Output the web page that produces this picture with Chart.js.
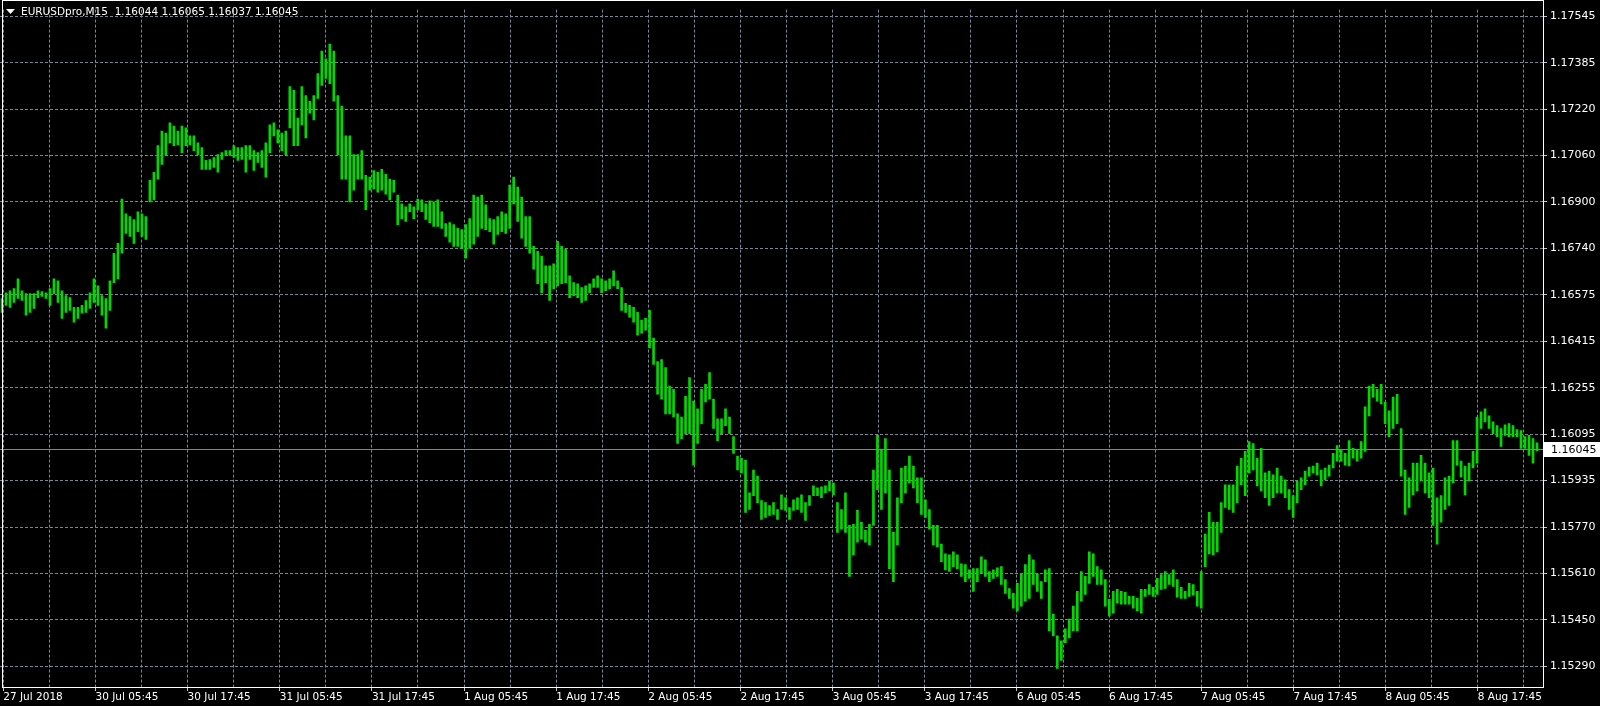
<!DOCTYPE html>
<html>
<head>
<meta charset="utf-8">
<title>EURUSDpro,M15</title>
<script src="https://cdn.jsdelivr.net/npm/chart.js@4.4.0/dist/chart.umd.min.js"></script>
<style>
  html, body { margin: 0; padding: 0; background: #000; }
  canvas { display: block; }
</style>
</head>
<body>
<canvas id="myChart" width="1600" height="706"></canvas>
<script>
const symbol = 'EURUSDpro,M15';
const lastBar = [1.16044, 1.16065, 1.16037, 1.16045]; // open, high, low, close

const priceLabels = [
    '1.17545', '1.17385', '1.17220', '1.17060', '1.16900', '1.16740', '1.16575', '1.16415',
    '1.16255', '1.16095', '1.15935', '1.15770', '1.15610', '1.15450', '1.15290',
];

const timeLabels = [
    '27 Jul 2018', '30 Jul 05:45', '30 Jul 17:45', '31 Jul 05:45', '31 Jul 17:45',
    '1 Aug 05:45', '1 Aug 17:45', '2 Aug 05:45', '2 Aug 17:45', '3 Aug 05:45',
    '3 Aug 17:45', '6 Aug 05:45', '6 Aug 17:45', '7 Aug 05:45', '7 Aug 17:45',
    '8 Aug 05:45', '8 Aug 17:45',
];

// M15 bar highs / lows
const highs = [
    1.16566, 1.16586, 1.16593, 1.16600, 1.16634, 1.16593, 1.16583, 1.16583, 1.16583, 1.16593,
    1.16590, 1.16586, 1.16600, 1.16634, 1.16627, 1.16593, 1.16576, 1.16569, 1.16535, 1.16535,
    1.16542, 1.16559, 1.16586, 1.16634, 1.16610, 1.16576, 1.16566, 1.16627, 1.16723, 1.16757,
    1.16911, 1.16860, 1.16850, 1.16840, 1.16867, 1.16860, 1.16850, 1.16976, 1.17004, 1.17096,
    1.17147, 1.17140, 1.17175, 1.17164, 1.17147, 1.17164, 1.17158, 1.17130, 1.17130, 1.17106,
    1.17089, 1.17045, 1.17048, 1.17055, 1.17065, 1.17072, 1.17079, 1.17079, 1.17096, 1.17089,
    1.17089, 1.17096, 1.17096, 1.17079, 1.17072, 1.17079, 1.17106, 1.17168, 1.17175, 1.17151,
    1.17140, 1.17147, 1.17301, 1.17288, 1.17192, 1.17301, 1.17270, 1.17250, 1.17270, 1.17346,
    1.17424, 1.17397, 1.17448, 1.17424, 1.17270, 1.17233, 1.17130, 1.17130, 1.17065, 1.17065,
    1.17079, 1.16993, 1.16987, 1.17010, 1.17004, 1.17014, 1.16997, 1.16980, 1.16976, 1.16925,
    1.16894, 1.16884, 1.16894, 1.16884, 1.16911, 1.16908, 1.16894, 1.16905, 1.16901, 1.16908,
    1.16867, 1.16826, 1.16829, 1.16822, 1.16809, 1.16805, 1.16822, 1.16843, 1.16925, 1.16918,
    1.16925, 1.16891, 1.16843, 1.16840, 1.16850, 1.16867, 1.16860, 1.16959, 1.16987, 1.16952,
    1.16918, 1.16850, 1.16850, 1.16747, 1.16730, 1.16713, 1.16679, 1.16679, 1.16686, 1.16764,
    1.16747, 1.16737, 1.16645, 1.16621, 1.16617, 1.16604, 1.16610, 1.16617, 1.16634, 1.16645,
    1.16634, 1.16627, 1.16634, 1.16662, 1.16627, 1.16604, 1.16549, 1.16542, 1.16535, 1.16518,
    1.16491, 1.16497, 1.16525, 1.16429, 1.16347, 1.16354, 1.16326, 1.16262, 1.16251, 1.16166,
    1.16155, 1.16227, 1.16292, 1.16210, 1.16183, 1.16251, 1.16268, 1.16309, 1.16217, 1.16149,
    1.16149, 1.16183, 1.16155, 1.16087, 1.16019, 1.16012, 1.16005, 1.15892, 1.15971, 1.15950,
    1.15865, 1.15858, 1.15848, 1.15858, 1.15834, 1.15885, 1.15875, 1.15841, 1.15868, 1.15875,
    1.15885, 1.15858, 1.15882, 1.15916, 1.15909, 1.15913, 1.15916, 1.15933, 1.15926, 1.15858,
    1.15834, 1.15892, 1.15779, 1.15783, 1.15831, 1.15790, 1.15762, 1.15783, 1.15971, 1.16091,
    1.16039, 1.16080, 1.15971, 1.15755, 1.15875, 1.15978, 1.15985, 1.16019, 1.15985, 1.15944,
    1.15944, 1.15868, 1.15834, 1.15779, 1.15779, 1.15714, 1.15680, 1.15677, 1.15687, 1.15677,
    1.15646, 1.15643, 1.15625, 1.15629, 1.15629, 1.15670, 1.15660, 1.15619, 1.15625, 1.15632,
    1.15636, 1.15591, 1.15560, 1.15543, 1.15578, 1.15612, 1.15643, 1.15677, 1.15660, 1.15612,
    1.15584, 1.15625, 1.15629, 1.15471, 1.15396, 1.15379, 1.15420, 1.15454, 1.15499, 1.15550,
    1.15619, 1.15602, 1.15687, 1.15680, 1.15636, 1.15625, 1.15591, 1.15523, 1.15550, 1.15557,
    1.15550, 1.15547, 1.15533, 1.15533, 1.15526, 1.15557, 1.15557, 1.15574, 1.15564, 1.15595,
    1.15608, 1.15619, 1.15608, 1.15625, 1.15591, 1.15564, 1.15550, 1.15578, 1.15574, 1.15550,
    1.15619, 1.15749, 1.15824, 1.15790, 1.15790, 1.15858, 1.15920, 1.15920, 1.15920, 1.15985,
    1.16012, 1.16036, 1.16070, 1.16063, 1.16012, 1.16046, 1.15961, 1.15967, 1.15954, 1.15978,
    1.15950, 1.15937, 1.15903, 1.15882, 1.15933, 1.15944, 1.15967, 1.15981, 1.15985, 1.15995,
    1.15971, 1.15978, 1.15988, 1.16029, 1.16056, 1.16039, 1.16029, 1.16073, 1.16046, 1.16039,
    1.16070, 1.16190, 1.16262, 1.16268, 1.16251, 1.16268, 1.16207, 1.16176, 1.16224, 1.16234,
    1.16115, 1.15971, 1.15944, 1.15995, 1.15995, 1.16022, 1.15995, 1.15961, 1.15978, 1.15875,
    1.15882, 1.15944, 1.15950, 1.16073, 1.16073, 1.16002, 1.15985, 1.15995, 1.16036, 1.16155,
    1.16173, 1.16183, 1.16159, 1.16138, 1.16125, 1.16115, 1.16128, 1.16132, 1.16125, 1.16111,
    1.16108, 1.16087, 1.16091, 1.16080, 1.16065,
];

const lows = [
    1.16518, 1.16542, 1.16535, 1.16552, 1.16566, 1.16559, 1.16508, 1.16518, 1.16532, 1.16569,
    1.16573, 1.16566, 1.16542, 1.16583, 1.16552, 1.16497, 1.16518, 1.16525, 1.16484, 1.16497,
    1.16515, 1.16518, 1.16532, 1.16552, 1.16542, 1.16508, 1.16463, 1.16525, 1.16621, 1.16634,
    1.16723, 1.16792, 1.16781, 1.16757, 1.16798, 1.16781, 1.16771, 1.16901, 1.16908, 1.16980,
    1.17031, 1.17065, 1.17106, 1.17096, 1.17099, 1.17072, 1.17096, 1.17099, 1.17079, 1.17065,
    1.17014, 1.17014, 1.17014, 1.17021, 1.17004, 1.17048, 1.17062, 1.17062, 1.17055, 1.17045,
    1.17048, 1.17004, 1.17048, 1.17010, 1.17038, 1.17021, 1.16987, 1.17072, 1.17130, 1.17106,
    1.17079, 1.17065, 1.17158, 1.17096, 1.17096, 1.17168, 1.17123, 1.17209, 1.17185, 1.17260,
    1.17305, 1.17329, 1.17311, 1.17250, 1.17065, 1.16980, 1.16980, 1.16901, 1.16942, 1.16980,
    1.16980, 1.16874, 1.16942, 1.16946, 1.16935, 1.16942, 1.16928, 1.16908, 1.16935, 1.16822,
    1.16843, 1.16833, 1.16867, 1.16843, 1.16874, 1.16867, 1.16840, 1.16829, 1.16816, 1.16816,
    1.16809, 1.16781, 1.16761, 1.16747, 1.16747, 1.16740, 1.16706, 1.16740, 1.16754, 1.16781,
    1.16809, 1.16805, 1.16798, 1.16754, 1.16788, 1.16798, 1.16792, 1.16809, 1.16894, 1.16833,
    1.16775, 1.16747, 1.16723, 1.16668, 1.16617, 1.16586, 1.16621, 1.16559, 1.16600, 1.16610,
    1.16617, 1.16621, 1.16569, 1.16576, 1.16569, 1.16552, 1.16559, 1.16586, 1.16604, 1.16604,
    1.16586, 1.16593, 1.16600, 1.16610, 1.16600, 1.16525, 1.16518, 1.16501, 1.16484, 1.16439,
    1.16446, 1.16456, 1.16395, 1.16337, 1.16234, 1.16217, 1.16166, 1.16166, 1.16155, 1.16063,
    1.16080, 1.16097, 1.16097, 1.15988, 1.16063, 1.16132, 1.16207, 1.16217, 1.16115, 1.16073,
    1.16097, 1.16125, 1.16097, 1.16029, 1.15971, 1.15961, 1.15824, 1.15834, 1.15882, 1.15858,
    1.15800, 1.15807, 1.15814, 1.15817, 1.15800, 1.15834, 1.15831, 1.15800, 1.15831, 1.15834,
    1.15824, 1.15796, 1.15848, 1.15882, 1.15882, 1.15875, 1.15892, 1.15899, 1.15885, 1.15755,
    1.15766, 1.15755, 1.15602, 1.15677, 1.15721, 1.15731, 1.15721, 1.15711, 1.15779, 1.15903,
    1.15834, 1.15892, 1.15629, 1.15584, 1.15711, 1.15858, 1.15892, 1.15926, 1.15909, 1.15858,
    1.15817, 1.15807, 1.15766, 1.15711, 1.15704, 1.15653, 1.15625, 1.15619, 1.15636, 1.15629,
    1.15602, 1.15584, 1.15595, 1.15550, 1.15584, 1.15612, 1.15602, 1.15584, 1.15595, 1.15602,
    1.15574, 1.15543, 1.15526, 1.15492, 1.15482, 1.15499, 1.15516, 1.15526, 1.15574, 1.15550,
    1.15526, 1.15584, 1.15413, 1.15396, 1.15283, 1.15311, 1.15372, 1.15389, 1.15413, 1.15413,
    1.15516, 1.15540, 1.15578, 1.15602, 1.15574, 1.15574, 1.15499, 1.15465, 1.15475, 1.15509,
    1.15506, 1.15506, 1.15506, 1.15492, 1.15482, 1.15475, 1.15533, 1.15540, 1.15533, 1.15540,
    1.15557, 1.15560, 1.15574, 1.15567, 1.15530, 1.15526, 1.15526, 1.15533, 1.15537, 1.15499,
    1.15492, 1.15636, 1.15680, 1.15677, 1.15687, 1.15755, 1.15841, 1.15834, 1.15824, 1.15858,
    1.15920, 1.15882, 1.15961, 1.15971, 1.15916, 1.15899, 1.15875, 1.15848, 1.15875, 1.15892,
    1.15892, 1.15875, 1.15834, 1.15807, 1.15858, 1.15903, 1.15920, 1.15950, 1.15961, 1.15954,
    1.15916, 1.15937, 1.15950, 1.15978, 1.16002, 1.16002, 1.15988, 1.15985, 1.16012, 1.16002,
    1.16012, 1.16036, 1.16159, 1.16224, 1.16210, 1.16200, 1.16132, 1.16087, 1.16115, 1.16132,
    1.15950, 1.15817, 1.15841, 1.15885, 1.15899, 1.15933, 1.15892, 1.15875, 1.15779, 1.15714,
    1.15790, 1.15834, 1.15848, 1.15926, 1.15988, 1.15947, 1.15885, 1.15933, 1.15978, 1.15995,
    1.16115, 1.16138, 1.16115, 1.16097, 1.16087, 1.16053, 1.16091, 1.16087, 1.16087, 1.16087,
    1.16046, 1.16046, 1.16022, 1.15995, 1.16037,
];

const ctx = document.getElementById('myChart');
const fontFace = '"DejaVu Sans", Verdana, sans-serif';
const gridColor = '#778899';
const bid = lastBar[3];

const bars = highs.map((h, i) => ({ x: i, y: [lows[i], h] }));

// background, border, bid line, header and price tag, MT4 style
const mtOverlay = {
    id: 'mtOverlay',
    beforeDraw(chart) {
        const c = chart.ctx;
        c.save();
        c.fillStyle = '#000';
        c.fillRect(0, 0, chart.width, chart.height);
        c.restore();
    },
    afterDatasetsDraw(chart) {
        const c = chart.ctx;
        const area = chart.chartArea;
        const y = Math.round(chart.scales.y.getPixelForValue(bid)) + 0.5;
        c.save();
        c.strokeStyle = gridColor;
        c.lineWidth = 1;
        c.beginPath();
        c.moveTo(area.left, y);
        c.lineTo(area.right, y);
        c.stroke();
        c.restore();
    },
    afterDraw(chart) {
        const c = chart.ctx;
        const area = chart.chartArea;
        c.save();
        c.strokeStyle = '#ffffff';
        c.lineWidth = 1;
        c.strokeRect(2.5, 0.5, area.right - 2, area.bottom);

        // header
        c.fillStyle = '#ffffff';
        c.beginPath();
        c.moveTo(6, 9);
        c.lineTo(15, 9);
        c.lineTo(10.5, 14);
        c.closePath();
        c.fill();
        c.font = '10.5px ' + fontFace;
        c.textBaseline = 'middle';
        c.fillText(symbol + '  ' + lastBar.map(v => v.toFixed(5)).join(' '), 21, 12);

        // bid price tag
        const y = Math.round(chart.scales.y.getPixelForValue(bid));
        c.fillRect(area.right + 1, y - 7, chart.width - area.right - 1, 15);
        c.fillStyle = '#000000';
        c.font = '11px ' + fontFace;
        c.fillText(bid.toFixed(5), area.right + 8, y + 1);
        c.restore();
    }
};

const config = {
    type: 'bar',
    data: {
        datasets: [{
            data: bars,
            backgroundColor: '#00d800',
            borderWidth: 0,
            barThickness: 2,
            grouped: false,
        }],
    },
    options: {
        responsive: false,
        animation: false,
        events: [],
        layout: { padding: 0 },
        plugins: {
            legend: { display: false },
            tooltip: { enabled: false },
        },
        scales: {
            x: {
                type: 'linear',
                offset: false,
                min: -0.5,
                max: 385.5,
                afterFit: (s) => { s.height = 19; },
                afterBuildTicks: (s) => {
                    const t = [];
                    for (let k = 0; k < timeLabels.length * 2; k++) {
                        t.push({ value: 0.33 + 11.526 * k });
                    }
                    s.ticks = t;
                },
                grid: {
                    offset: false,
                    color: gridColor,
                    tickLength: 4,
                    tickColor: (c) => (c.index % 2 === 0 ? '#c8c8c8' : 'rgba(0,0,0,0)'),
                },
                border: { display: false, dash: [3, 2] },
                ticks: {
                    color: '#ffffff',
                    font: { family: fontFace, size: 10.5 },
                    padding: 0,
                    align: 'start',
                    maxRotation: 0,
                    autoSkip: false,
                    callback: (v, i) => (i % 2 === 0 ? timeLabels[i / 2] : ''),
                },
            },
            y: {
                position: 'right',
                min: 1.152185,
                max: 1.17568,
                afterFit: (s) => { s.width = 57; },
                afterBuildTicks: (s) => {
                    const top = parseFloat(priceLabels[0]);
                    const bottom = parseFloat(priceLabels[priceLabels.length - 1]);
                    const step = (top - bottom) / (priceLabels.length - 1);
                    s.ticks = priceLabels.map((p, k) => ({ value: top - k * step }));
                },
                grid: {
                    color: gridColor,
                    tickLength: 4,
                    tickColor: '#c8c8c8',
                },
                border: { display: false, dash: [3, 2] },
                ticks: {
                    color: '#ffffff',
                    font: { family: fontFace, size: 11 },
                    padding: 3,
                    callback: (v, i) => priceLabels[i],
                },
            },
        },
    },
    plugins: [mtOverlay],
};

const myChart = new Chart(ctx, config);
</script>
</body>
</html>
